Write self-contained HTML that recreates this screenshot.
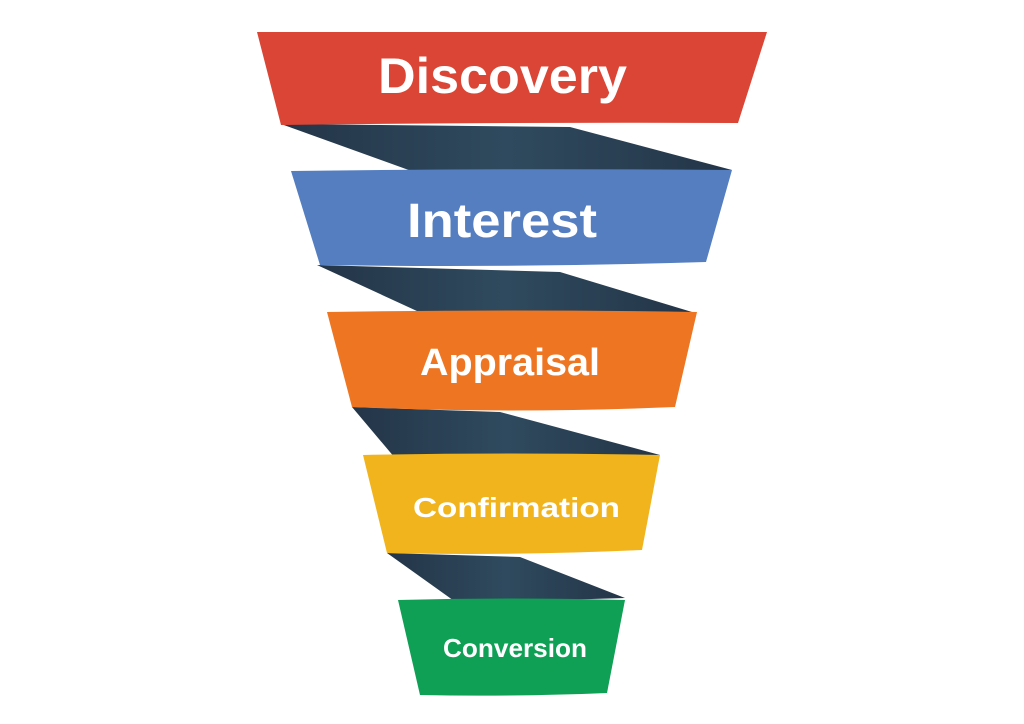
<!DOCTYPE html>
<html><head><style>html,body{margin:0;padding:0;background:#fff;}svg{display:block}</style></head>
<body>
<svg width="1024" height="724" viewBox="0 0 1024 724" xmlns="http://www.w3.org/2000/svg">
<defs>
<linearGradient id="d" x1="0" x2="1" y1="0" y2="0">
<stop offset="0" stop-color="#243548"/><stop offset="0.5" stop-color="#2f4a5e"/><stop offset="1" stop-color="#243548"/>
</linearGradient>
</defs>
<polygon points="281,124 570,127 732,170 417,173" fill="url(#d)"/>
<polygon points="317,265 560,272 692,312 430,317" fill="url(#d)"/>
<polygon points="352,407 500,412 660,455 395,458" fill="url(#d)"/>
<polygon points="387,553 520,557 625,598 457,603" fill="url(#d)"/>
<path d="M257,32 L767,32 L738,123 Q510,122 281,125 Z" fill="#db4535"/>
<path d="M291,171 Q510,168 732,170 L706,262 Q510,268 320,265 Z" fill="#547ec0"/>
<path d="M327,312 Q510,309 697,312 L675,407 Q510,414 352,407 Z" fill="#ee7623"/>
<path d="M363,455 Q510,452 660,455 L642,550 Q510,556 387,553 Z" fill="#f1b41c"/>
<path d="M398,600 Q510,597 625,600 L607,693 Q510,697 420,695 Z" fill="#10a055"/>
<g font-family="Liberation Sans, sans-serif" font-weight="bold" fill="#fff">
<text x="378" y="93" font-size="50" textLength="249" lengthAdjust="spacingAndGlyphs">Discovery</text>
<text x="407" y="237" font-size="48" textLength="190" lengthAdjust="spacingAndGlyphs">Interest</text>
<text x="420" y="375" font-size="38" textLength="180" lengthAdjust="spacingAndGlyphs">Appraisal</text>
<text x="413" y="517" font-size="28" textLength="207" lengthAdjust="spacingAndGlyphs">Confirmation</text>
<text x="443" y="657" font-size="26" textLength="144" lengthAdjust="spacingAndGlyphs">Conversion</text>
</g>
</svg>
</body></html>
